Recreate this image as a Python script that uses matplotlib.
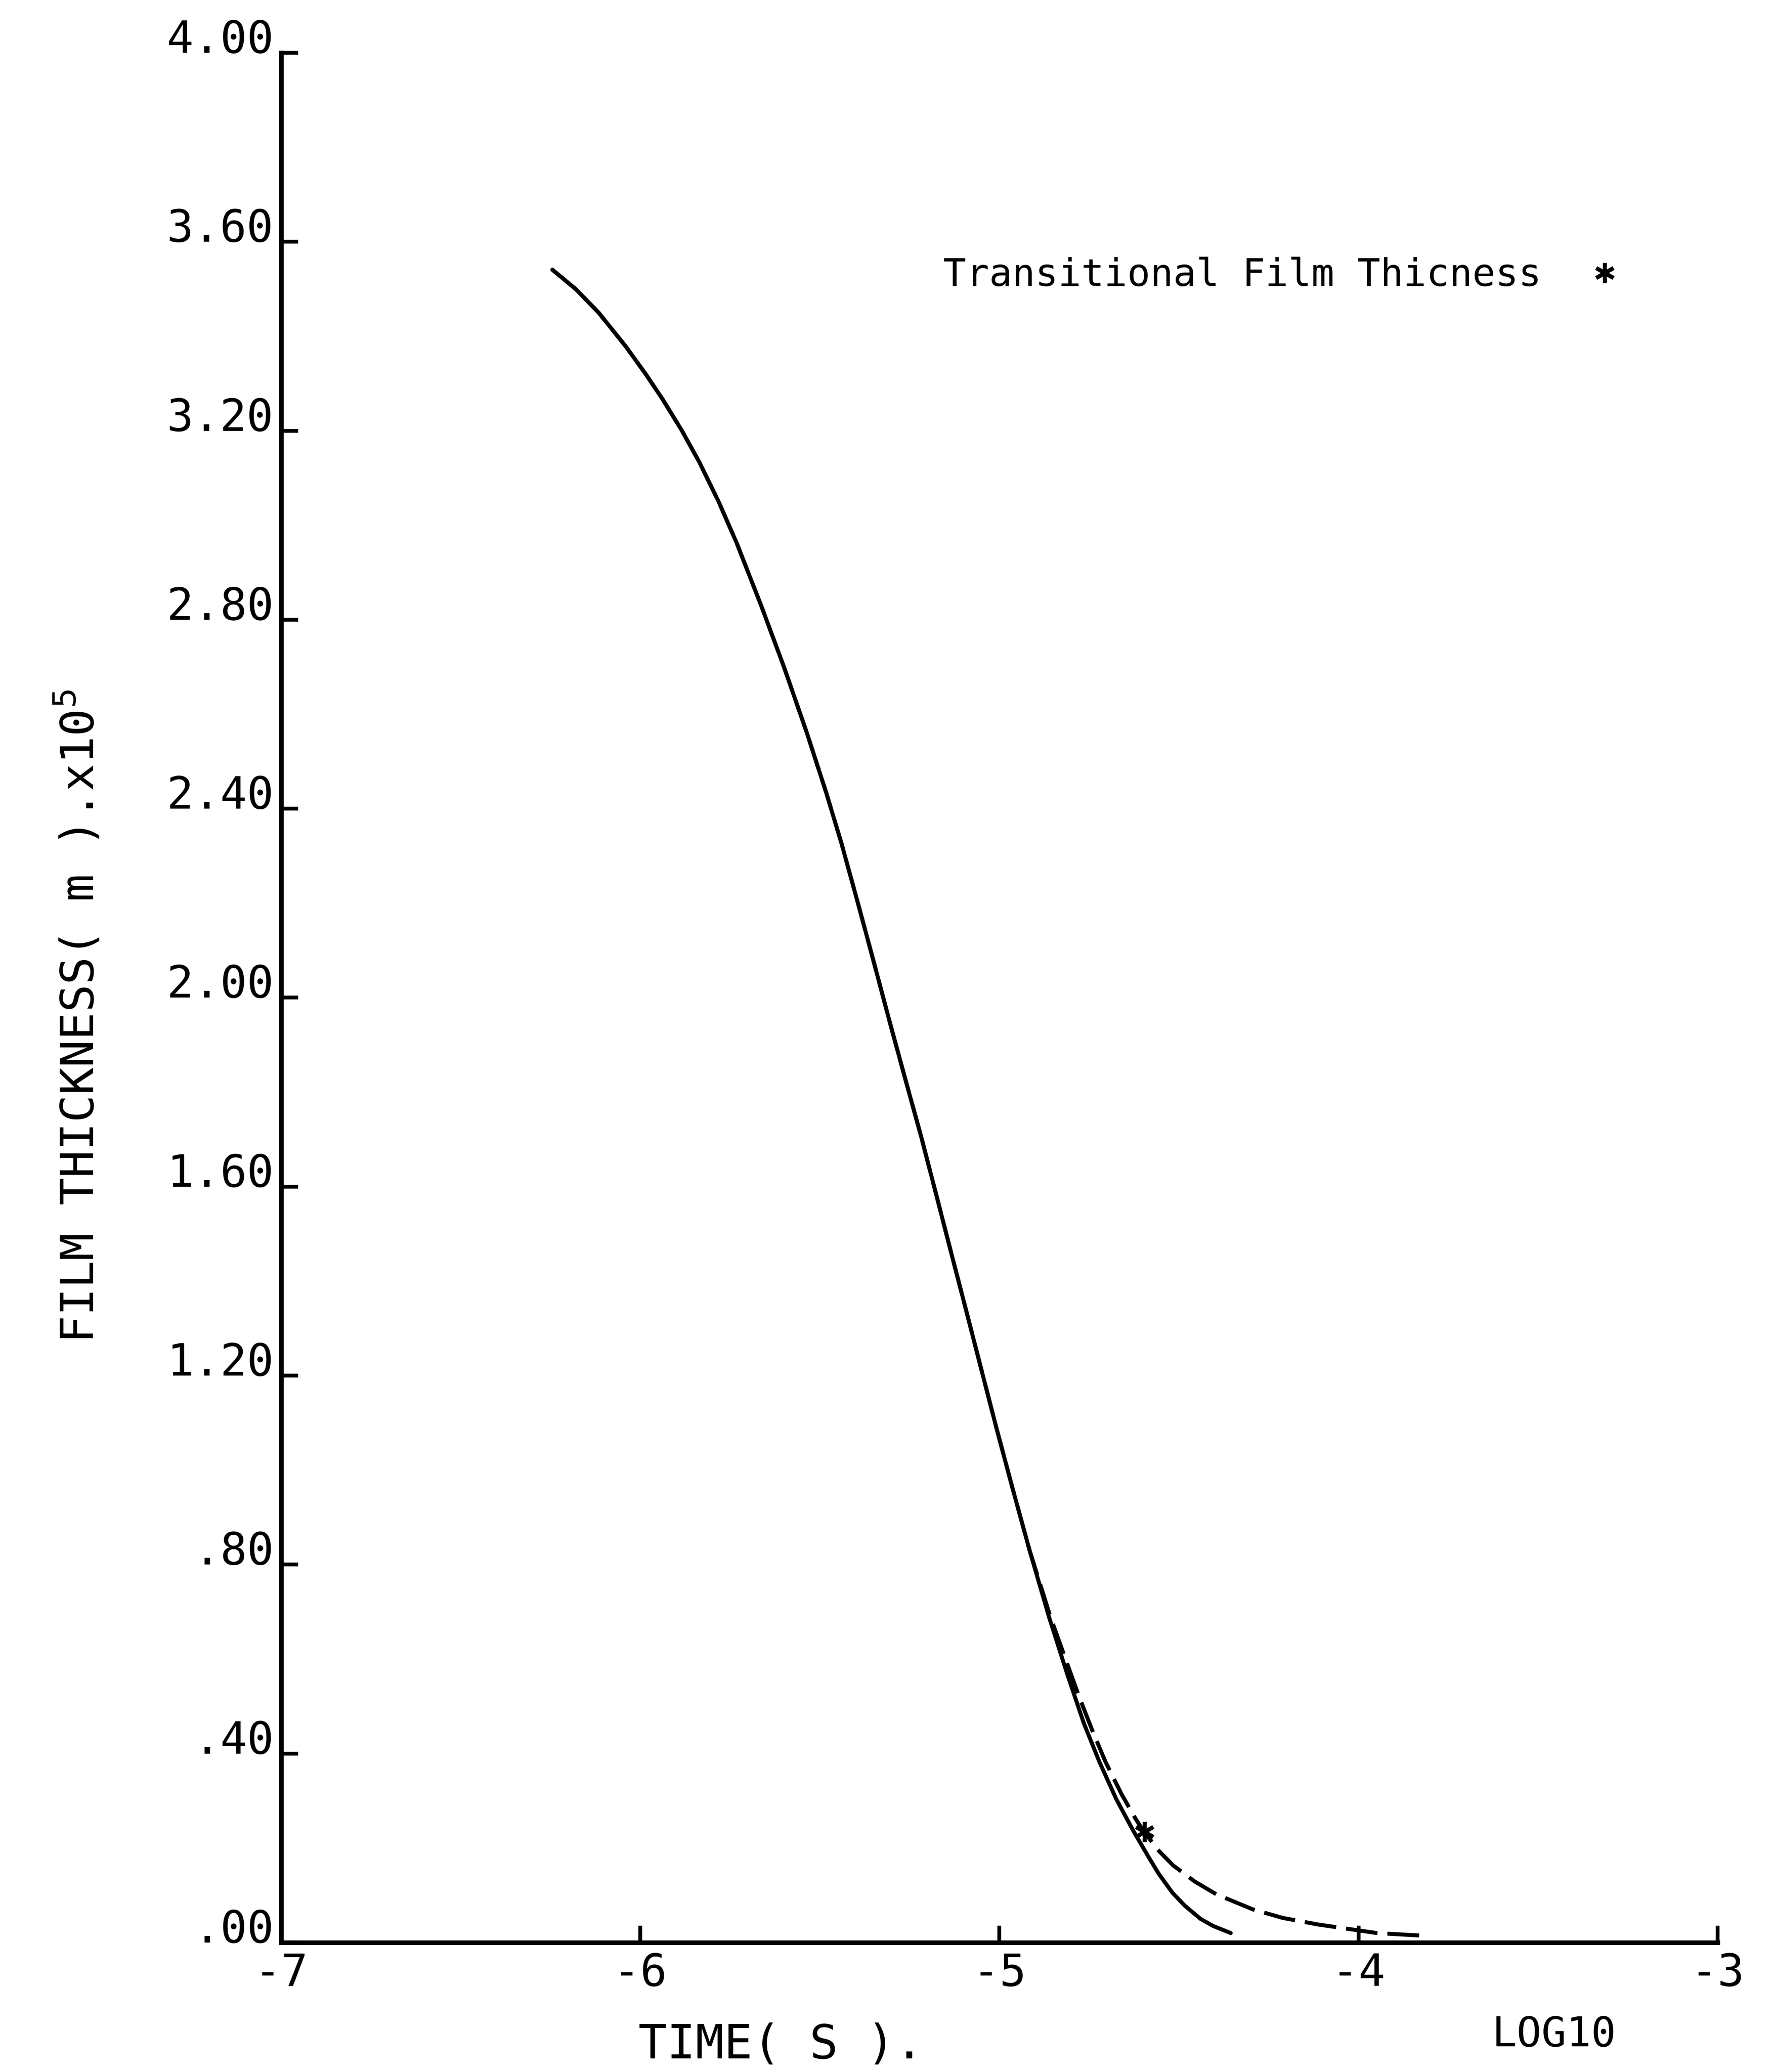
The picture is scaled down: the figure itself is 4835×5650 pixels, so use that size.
import matplotlib
matplotlib.use("Agg")
import matplotlib.pyplot as plt
from matplotlib.lines import Line2D

plt.rcParams['font.family'] = ['DejaVu Sans Mono', 'DejaVu Sans']

# log10 of time (s) and film thickness (m) x 1e5
solid_t = [-6.245, -6.180, -6.116, -6.041, -5.985, -5.939, -5.884, -5.836,
           -5.782, -5.732, -5.663, -5.600, -5.536, -5.482, -5.440, -5.394,
           -5.348, -5.306, -5.263, -5.218, -5.175, -5.131, -5.090, -5.046,
           -5.007, -4.963, -4.916, -4.862, -4.812, -4.765, -4.722, -4.675,
           -4.627, -4.584, -4.556, -4.519, -4.484, -4.440, -4.405, -4.356]
solid_h = [3.541, 3.500, 3.450, 3.379, 3.320, 3.268, 3.200, 3.134,
           3.050, 2.963, 2.829, 2.700, 2.560, 2.433, 2.327, 2.200,
           2.070, 1.950, 1.830, 1.706, 1.580, 1.450, 1.330, 1.200,
           1.085, 0.960, 0.830, 0.689, 0.570, 0.464, 0.383, 0.304,
           0.236, 0.180, 0.145, 0.106, 0.078, 0.050, 0.035, 0.020]

dashed_t = [-6.245, -6.180, -6.116, -6.041, -5.985, -5.939, -5.884, -5.836,
            -5.782, -5.732, -5.663, -5.600, -5.536, -5.482, -5.440, -5.394,
            -5.348, -5.306, -5.263, -5.218, -5.175, -5.131, -5.090, -5.046,
            -5.007, -4.963, -4.916, -4.858, -4.816, -4.778, -4.742, -4.705,
            -4.660, -4.621, -4.597, -4.555, -4.516, -4.456, -4.396, -4.294,
            -4.211, -4.112, -3.949, -3.812]
dashed_h = [3.541, 3.500, 3.450, 3.379, 3.320, 3.268, 3.200, 3.134,
            3.050, 2.963, 2.829, 2.700, 2.560, 2.433, 2.327, 2.200,
            2.070, 1.950, 1.830, 1.706, 1.580, 1.450, 1.330, 1.200,
            1.085, 0.960, 0.830, 0.689, 0.600, 0.520, 0.450, 0.383,
            0.314, 0.262, 0.234, 0.193, 0.163, 0.129, 0.102, 0.070,
            0.052, 0.038, 0.020, 0.014]

# transitional film thickness point
trans_t = [-4.596]
trans_h = [0.234]

x_ticks = [-7, -6, -5, -4, -3]
x_tick_labels = ['-7', '-6', '-5', '-4', '-3']
y_ticks = [0.0, 0.4, 0.8, 1.2, 1.6, 2.0, 2.4, 2.8, 3.2, 3.6, 4.0]
y_tick_labels = ['.00', '.40', '.80', '1.20', '1.60', '2.00', '2.40',
                 '2.80', '3.20', '3.60', '4.00']

fig = plt.figure(figsize=(4835 / 300, 5650 / 300), dpi=300)
ax = fig.add_axes([0.1586, 0.0625, 0.8102, 0.912])

ax.plot(solid_t, solid_h, color='black', lw=2.6, solid_capstyle='round')
ax.plot(dashed_t, dashed_h, color='black', lw=2.6, dashes=(8, 2.5))
star = (6, 2, 0)
ax.plot(trans_t, trans_h, ls='none', marker=star, ms=13, mew=2.6,
        color='black')

ax.set_xlim(-7, -3)
ax.set_ylim(0, 4)
ax.set_xticks(x_ticks)
ax.set_xticklabels(x_tick_labels)
ax.set_yticks(y_ticks)
ax.set_yticklabels(y_tick_labels, va='baseline')

for s in ['top', 'right']:
    ax.spines[s].set_visible(False)
for s in ['left', 'bottom']:
    ax.spines[s].set_linewidth(3)

ax.tick_params(axis='both', direction='in', length=11, width=2.5,
               labelsize=29, colors='black')
ax.tick_params(axis='y', pad=5)
ax.tick_params(axis='x', pad=6)

ax.text(-0.1407, 0.49, 'FILM THICKNESS( m ).x10$^{5}$', rotation=90,
        ha='center', va='center', fontsize=30, transform=ax.transAxes)
ax.text(0.348, -0.0543, 'TIME( S ).', ha='center', va='center',
        fontsize=31, transform=ax.transAxes)
ax.text(0.886, -0.0489, 'LOG10', ha='center', va='center',
        fontsize=27, transform=ax.transAxes)

handle = Line2D([], [], ls='none', marker=star, ms=13, mew=2.6, color='black')
ax.legend([handle], ['Transitional Film Thicness'], markerfirst=False,
          frameon=False, fontsize=25, loc='center left',
          bbox_to_anchor=(0.532, 0.867), bbox_transform=fig.transFigure,
          borderpad=0, borderaxespad=0, handlelength=1, handletextpad=1.15)

fig.savefig('out.png', dpi=300, facecolor='white')
